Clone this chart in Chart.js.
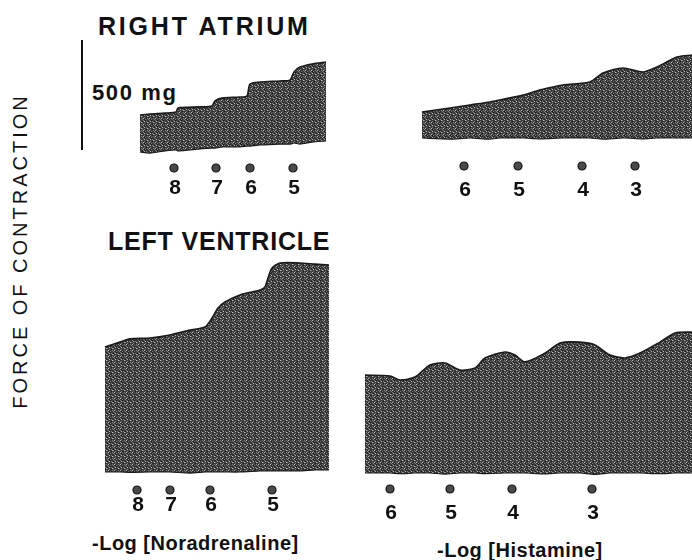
<!DOCTYPE html>
<html>
<head>
<meta charset="utf-8">
<script src="https://cdn.jsdelivr.net/npm/chart.js@4.4.0/dist/chart.umd.min.js"></script>
<style>
  html, body { margin: 0; padding: 0; background: #fff; }
  #page { position: relative; width: 692px; height: 560px; overflow: hidden; font-family: "Liberation Sans", Arial, sans-serif; color: #111; }
  canvas { position: absolute; }
  .lbl { position: absolute; white-space: nowrap; font-weight: bold; line-height: 1; }
  #yTitle { position: absolute; left: 20px; top: 251px; transform: translate(-50%, -50%) rotate(-90deg);
            font-size: 20px; letter-spacing: 3px; white-space: nowrap; line-height: 1; }
</style>
</head>
<body>
<div id="page">
  <div id="yTitle">FORCE OF CONTRACTION</div>
  <div class="lbl" style="left:98px; top:14px; font-size:25px; letter-spacing:2.8px;">RIGHT ATRIUM</div>
  <div class="lbl" style="left:108px; top:229px; font-size:25px; letter-spacing:0.8px;">LEFT VENTRICLE</div>
  <div class="lbl" style="left:92px; top:82px; font-size:22px; letter-spacing:1.6px;">500 mg</div>
  <div class="lbl" style="left:92px; top:533px; font-size:20px; letter-spacing:0.5px;">-Log [Noradrenaline]</div>
  <div class="lbl" style="left:437px; top:540px; font-size:20px; letter-spacing:0.5px;">-Log [Histamine]</div>
  <canvas id="raNor"></canvas>
  <canvas id="raHis"></canvas>
  <canvas id="lvNor"></canvas>
  <canvas id="lvHis"></canvas>
</div>
<script>
// time in min, force in mg
const raNorTime = [0, 1, 2.5, 3.6, 3.8, 6, 7.2, 7.5, 8.2, 10, 10.7, 11, 12, 14, 15, 15.4, 16, 17.2, 18.6];
const raNorPeak = [168, 173, 177, 182, 200, 205, 209, 232, 245, 250, 255, 309, 318, 323, 327, 364, 386, 400, 409];
const raNorRest = [0, -5, 5, 9, 5, 14, 18, 18, 23, 23, 27, 27, 32, 36, 36, 41, 36, 45, 50];
const raNorDose = [3.4, 7.6, 11.0, 15.3];
const raNorLabels = ['8', '7', '6', '5'];

const raHisTime = [0, 2.8, 4.8, 6.8, 7.8, 10.1, 11.8, 14.1, 16.8, 18.1, 20.1, 22.1, 23.5, 25.5, 27.0];
const raHisPeak = [118, 136, 150, 164, 173, 195, 218, 241, 255, 295, 318, 300, 323, 368, 377];
const raHisRest = [0, -5, 0, -5, 0, 0, -4, 0, 0, -5, 0, -4, 0, 0, 0];
const raHisDose = [4.2, 9.6, 16.0, 21.3];
const raHisLabels = ['6', '5', '4', '3'];

const lvNorTime = [0, 1.5, 2.5, 4.5, 6.5, 8.5, 10, 10.7, 11.3, 12, 13.5, 15.5, 16, 16.3, 16.7, 17.5, 19.5, 21, 22.4];
const lvNorPeak = [568, 591, 605, 609, 623, 645, 659, 700, 745, 773, 805, 827, 841, 882, 927, 950, 950, 945, 941];
const lvNorRest = [0, 0, -2, 0, 0, -5, 0, 0, 0, 0, 0, 5, 5, 5, 5, 5, 5, 9, 9];
const lvNorDose = [3.2, 6.5, 10.5, 16.7];
const lvNorLabels = ['8', '7', '6', '5'];

const lvHisTime = [0, 2.5, 3.5, 5, 6.5, 8, 9.5, 11, 12, 14, 15, 16, 18, 19.5, 21.5, 23, 24.5, 26, 27.5, 29.5, 31, 32.7];
const lvHisPeak = [445, 441, 423, 436, 491, 500, 468, 477, 523, 550, 536, 505, 545, 591, 595, 582, 536, 523, 545, 595, 636, 641];
const lvHisRest = [0, 0, -3, 0, 0, -5, 0, 0, -3, 0, 0, 0, -4, 0, 0, -6, 0, 0, 0, -3, 0, 0];
const lvHisDose = [2.5, 8.5, 14.7, 22.7];
const lvHisLabels = ['6', '5', '4', '3'];

const calibration = [0, 500];  // 500 mg bar

// layout
const PX_PER_MIN = 10;
const PX_PER_MG = 110 / 500;

// stippled grey fill like the recorder print
function stipple() {
  const c = document.createElement('canvas');
  c.width = 6; c.height = 6;
  const g = c.getContext('2d');
  g.fillStyle = '#3a3a3a'; g.fillRect(0, 0, 6, 6);
  g.fillStyle = '#7c7c7c';
  [[1,0],[4,1],[2,3],[5,4],[0,5],[3,5],[0,2]].forEach(p => g.fillRect(p[0], p[1], 1, 1));
  g.fillStyle = '#bdbdbd';
  [[2,1],[5,2],[1,4]].forEach(p => g.fillRect(p[0], p[1], 1, 1));
  g.fillStyle = '#1c1c1c';
  [[3,0],[0,1],[4,3],[2,5]].forEach(p => g.fillRect(p[0], p[1], 1, 1));
  return g.createPattern(c, 'repeat');
}
const fillPat = stipple();

const doseLabelPlugin = {
  id: 'doseLabels',
  afterDatasetsDraw(chart, args, opts) {
    const { ctx, scales } = chart;
    ctx.save();
    ctx.fillStyle = '#111';
    ctx.font = 'bold ' + opts.size + 'px "Liberation Sans", Arial, sans-serif';
    ctx.textAlign = 'center';
    ctx.textBaseline = 'middle';
    opts.times.forEach((t, i) => {
      const x = scales.x.getPixelForValue(t);
      const y = scales.y.getPixelForValue(opts.dotLevel) + opts.gap;
      ctx.fillText(opts.labels[i], x + 1, y);
    });
    ctx.restore();
  }
};

function pairs(xs, ys) { return xs.map((x, i) => ({ x, y: ys[i] })); }

function panel(id, box, origin, time, peak, rest, dose, labels, dotDrop, gap, numSize, extra) {
  const cv = document.getElementById(id);
  cv.width = box.w; cv.height = box.h;
  cv.style.left = box.l + 'px'; cv.style.top = box.t + 'px';
  const dotLevel = -dotDrop / PX_PER_MG;
  const datasets = [
    { type: 'line', data: pairs(time, rest), borderColor: '#1a1a1a', borderWidth: 1.2, pointRadius: 0, tension: 0.2, fill: false },
    { type: 'line', data: pairs(time, peak), borderColor: '#1a1a1a', borderWidth: 1.6, pointRadius: 0, tension: 0.25,
      fill: '-1', backgroundColor: fillPat },
    { type: 'scatter', data: dose.map(t => ({ x: t, y: dotLevel })), pointRadius: 4, pointBackgroundColor: '#4a4a4a',
      pointBorderColor: '#111', pointBorderWidth: 1.2 }
  ];
  if (extra) datasets.push(extra);
  new Chart(cv, {
    data: { datasets },
    options: {
      responsive: false, animation: false, devicePixelRatio: 1,
      layout: { padding: 0, autoPadding: false },
      plugins: { legend: { display: false }, tooltip: { enabled: false },
                 doseLabels: { times: dose, labels, dotLevel, gap, size: numSize } },
      scales: {
        x: { type: 'linear', display: false,
             min: (box.l - origin.x) / PX_PER_MIN, max: (box.l + box.w - origin.x) / PX_PER_MIN },
        y: { type: 'linear', display: false,
             min: (origin.y - box.t - box.h) / PX_PER_MG, max: (origin.y - box.t) / PX_PER_MG }
      }
    },
    plugins: [doseLabelPlugin]
  });
}

const calBar = { type: 'line', data: calibration.map(v => ({ x: -5.8, y: v + 9 })), borderColor: '#111',
                 borderWidth: 2, pointRadius: 0, fill: false };

panel('raNor', { l: 70, t: 30, w: 270, h: 175 }, { x: 140, y: 152 }, raNorTime, raNorPeak, raNorRest,
      raNorDose, raNorLabels, 16, 20, 21, calBar);
panel('raHis', { l: 412, t: 40, w: 280, h: 165 }, { x: 422, y: 138 }, raHisTime, raHisPeak, raHisRest,
      raHisDose, raHisLabels, 28, 24, 21);
panel('lvNor', { l: 95, t: 250, w: 245, h: 270 }, { x: 105, y: 472 }, lvNorTime, lvNorPeak, lvNorRest,
      lvNorDose, lvNorLabels, 18, 15, 21);
panel('lvHis', { l: 355, t: 320, w: 337, h: 205 }, { x: 365, y: 473 }, lvHisTime, lvHisPeak, lvHisRest,
      lvHisDose, lvHisLabels, 16, 24, 21);
</script>
</body>
</html>
